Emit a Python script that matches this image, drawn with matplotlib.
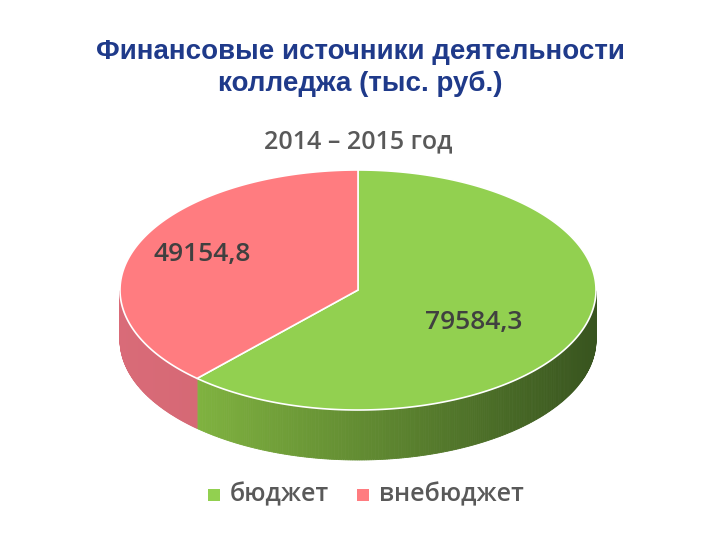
import numpy as np
import matplotlib
matplotlib.use("Agg")
import matplotlib.pyplot as plt
from matplotlib.patches import Polygon, Rectangle

categories = ["бюджет", "внебюджет"]
values = [79584.3, 49154.8]
labels = ["79584,3", "49154,8"]
top_colors = ["#92d050", "#ff7c80"]
side_light = [np.array([0.50, 0.70, 0.25]), np.array([0.85, 0.42, 0.47])]
side_dark = [np.array([0.22, 0.33, 0.12]), np.array([0.78, 0.36, 0.40])]

fig = plt.figure(figsize=(7.2, 5.4), dpi=100)
ax = fig.add_axes([0, 0, 1, 1])
ax.set_xlim(0, 720); ax.set_ylim(540, 0); ax.axis("off")

cx, cy, rx, ry, depth = 358, 290, 238, 120, 50
def pt(a, dy=0):
    r = np.radians(a)
    return cx + rx*np.cos(r), cy - ry*np.sin(r) + dy

total = sum(values)
start = 90.0
spans = []
for v in values:
    end = start - v/total*360
    spans.append((start, end))
    start = end

for i, (s, e) in enumerate(spans):
    angs = np.linspace(e, s, 400)
    angs = ((angs + 180) % 360) - 180
    for a0, a1 in zip(angs[:-1], angs[1:]):
        if not (-180 <= a0 <= 0 and -180 <= a1 <= 0) or abs(a1-a0) > 5:
            continue
        t = (pt(a0)[0] - (cx-rx)) / (2*rx)
        if i == 0:
            t = (pt(a0)[0] - pt(spans[0][1])[0]) / (cx+rx - pt(spans[0][1])[0])
        t = np.clip(t, 0, 1)
        c = side_light[i]*(1-t) + side_dark[i]*t
        p = [pt(a0), pt(a1), pt(a1, depth), pt(a0, depth)]
        ax.add_patch(Polygon(p, closed=True, fc=c, ec=c, lw=0.6))

for i, (s, e) in enumerate(spans):
    angs = np.linspace(s, e, 300)
    p = [(cx, cy)] + [pt(a) for a in angs]
    ax.add_patch(Polygon(p, closed=True, fc=top_colors[i], ec="white", lw=1.2))

ax.text(360, 68, "Финансовые источники деятельности\nколледжа (тыс. руб.)",
        ha="center", va="center", fontsize=20, fontweight="bold",
        color="#1f3a8a", family="Liberation Sans", linespacing=1.25)
ax.text(358, 142, "2014 – 2015 год", ha="center", va="center",
        fontsize=18, fontweight="semibold", color="#595959", family="Open Sans")
ax.text(425, 323, labels[0], ha="left", va="center", fontsize=19,
        fontweight="semibold", color="#404040", family="Open Sans")
ax.text(153, 255, labels[1], ha="left", va="center", fontsize=19,
        fontweight="semibold", color="#404040", family="Open Sans")

for x, col, lab in [(208, top_colors[0], categories[0]), (357, top_colors[1], categories[1])]:
    ax.add_patch(Rectangle((x, 489), 12, 12, fc=col, ec="none"))
    ax.text(x+22, 495, lab, ha="left", va="center", fontsize=18,
            fontweight="semibold", color="#595959", family="Open Sans")

fig.savefig("out.png", dpi=100)
